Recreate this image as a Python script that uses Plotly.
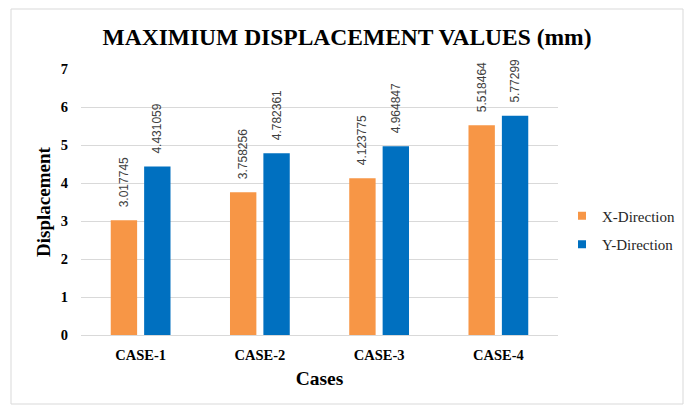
import plotly.graph_objects as go

cases = ["CASE-1", "CASE-2", "CASE-3", "CASE-4"]
x_direction = [3.017745, 3.758256, 4.123775, 5.518464]
y_direction = [4.431059, 4.782361, 4.964847, 5.77299]
y_ticks = [0, 1, 2, 3, 4, 5, 6, 7]
series_names = ["X-Direction", "Y-Direction"]
series_colors = ["#F79646", "#0070C0"]

serif = "Liberation Serif, Times New Roman, serif"
sans = "Liberation Sans, Arial, sans-serif"
pad = "\u00a0\u00a0\u00a0"

fig = go.Figure()
for name, color, vals in zip(series_names, series_colors, [x_direction, y_direction]):
    fig.add_trace(go.Bar(
        x=cases, y=vals, name=name, showlegend=False,
        marker=dict(color=color, line=dict(width=0)),
        text=[pad + str(v) for v in vals],
        textposition="outside", textangle=-90, cliponaxis=False, constraintext="none",
        textfont=dict(family=sans, size=12, color="#404040"),
    ))
# legend entries with small square swatches
for name, color in zip(series_names, series_colors):
    fig.add_trace(go.Scatter(
        x=[None], y=[None], mode="markers", name=name, legendgroup=name,
        marker=dict(symbol="square", size=8, color=color),
    ))

L, R, T, B = 81, 130, 69, 70
W, H = 688, 405
pw, ph = W - L - R, H - T - B

fig.update_layout(
    width=W, height=H,
    margin=dict(l=L, r=R, t=T, b=B, autoexpand=False),
    paper_bgcolor="white", plot_bgcolor="white",
    barmode="group", bargap=0.44, bargroupgap=0.21,
    title=dict(text="<b>MAXIMIUM DISPLACEMENT VALUES (mm)</b>",
               font=dict(family=serif, size=23.5, color="black"),
               x=347 / W, xref="container", xanchor="center",
               y=1 - 37 / H, yref="container", yanchor="middle"),
    xaxis=dict(
        title=dict(text="<b>Cases</b>", font=dict(family=serif, size=19.5, color="black"), standoff=8),
        tickfont=dict(family=serif, size=14.5, color="black", weight="bold"),
        showline=True, linecolor="#d9d9d9", linewidth=1,
        ticks="", ticklabelstandoff=7,
    ),
    yaxis=dict(
        title=dict(text="<b>Displacement</b>", font=dict(family=serif, size=19, color="black"), standoff=5),
        range=[0, 7], tickvals=y_ticks,
        tickfont=dict(family=serif, size=14.5, color="black", weight="bold"),
        showgrid=True, gridcolor="#d9d9d9", gridwidth=1,
        zeroline=False, showline=False, ticks="", ticklabelstandoff=12,
    ),
    legend=dict(
        x=(562 - L) / pw, xanchor="left",
        y=(335 - 230) / ph, yanchor="middle",
        font=dict(family=serif, size=15, color="#262626"),
        tracegroupgap=6, itemwidth=30, bgcolor="rgba(0,0,0,0)",
    ),
    showlegend=True,
)

fig.add_shape(type="rect", xref="paper", yref="paper",
              x0=(11 - L) / pw, x1=(683 - L) / pw,
              y0=(335 - 404) / ph, y1=(335 - 9) / ph,
              line=dict(color="#d9d9d9", width=1), fillcolor="rgba(0,0,0,0)", layer="below")

fig.write_html("out.html", config={"displayModeBar": False},
               post_script="document.body.style.margin='0';")
